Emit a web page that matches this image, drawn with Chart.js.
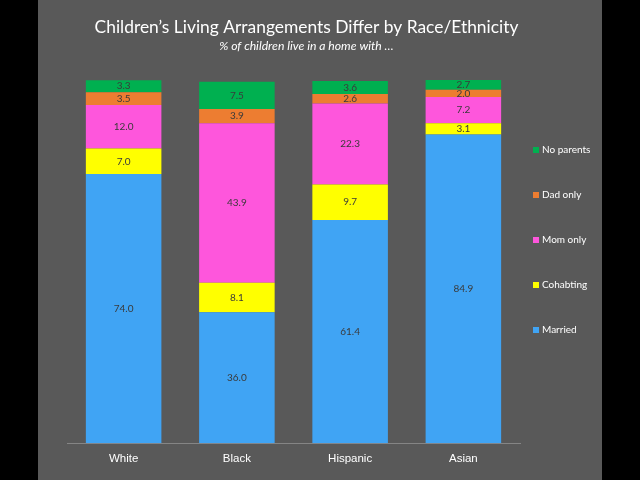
<!DOCTYPE html>
<html>
<head>
<meta charset="utf-8">
<script src="https://cdn.jsdelivr.net/npm/chart.js@4.4.1/dist/chart.umd.min.js"></script>
<style>
  html, body { margin: 0; padding: 0; background: #000; }
  #frame { position: absolute; left: 38px; top: 0; width: 564px; height: 480px; background: #595959; }
  #wrap { position: absolute; left: 0; top: 0; width: 613px; height: 480px; }
</style>
</head>
<body>
<div id="frame"></div>
<div id="wrap"><canvas id="chart"></canvas></div>
<script>
const groups = ['White', 'Black', 'Hispanic', 'Asian'];
const married = [74.0, 36.0, 61.4, 84.9];
const cohabiting = [7.0, 8.1, 9.7, 3.1];
const momOnly = [12.0, 43.9, 22.3, 7.2];
const dadOnly = [3.5, 3.9, 2.6, 2.0];
const noParents = [3.3, 7.5, 3.6, 2.7];

// draws the value in the middle of every segment
const segmentLabels = {
    id: 'segmentLabels',
    afterDatasetsDraw(chart) {
        const ctx = chart.ctx;
        ctx.save();
        ctx.font = '10px Lato';
        ctx.fillStyle = '#3a3a3a';
        ctx.textAlign = 'center';
        ctx.textBaseline = 'middle';
        chart.data.datasets.forEach((ds, i) => {
            chart.getDatasetMeta(i).data.forEach((bar, j) => {
                const y = (bar.y + bar.base) / 2;
                ctx.fillText(ds.data[j].toFixed(1), bar.x, y);
            });
        });
        ctx.restore();
    }
};

// legend column on the right, top item = top of stack
const sideLegend = {
    id: 'sideLegend',
    afterDraw(chart) {
        const ctx = chart.ctx;
        const items = chart.data.datasets.slice().reverse();
        const x = chart.chartArea.right + 13;
        const mid = chart.height / 2;
        ctx.save();
        ctx.font = '10px Lato';
        ctx.textBaseline = 'middle';
        items.forEach((ds, i) => {
            const y = mid + (i - 2) * 45;
            ctx.fillStyle = ds.backgroundColor;
            ctx.fillRect(x, y - 3, 6, 6);
            ctx.fillStyle = '#ffffff';
            ctx.fillText(ds.label, x + 9, y);
        });
        ctx.restore();
    }
};

// invisible side axes just reserve room so the title stays centred on the canvas
const spacer = (w) => ({
    display: true,
    ticks: { display: false },
    grid: { display: false },
    border: { display: false },
    afterFit(scale) { scale.width = w; }
});

new Chart(document.getElementById('chart'), {
    type: 'bar',
    data: {
        labels: groups,
        datasets: [
            { label: 'Married', data: married, backgroundColor: '#40a4f4' },
            { label: 'Cohabting', data: cohabiting, backgroundColor: '#ffff00' },
            { label: 'Mom only', data: momOnly, backgroundColor: '#fe56dc' },
            { label: 'Dad only', data: dadOnly, backgroundColor: '#ed7d31' },
            { label: 'No parents', data: noParents, backgroundColor: '#00b050' }
        ]
    },
    options: {
        responsive: true,
        maintainAspectRatio: false,
        animation: false,
        layout: { padding: { bottom: 5 } },
        datasets: { bar: { barPercentage: 0.667, categoryPercentage: 1 } },
        scales: {
            x: {
                stacked: true,
                grid: { display: false, drawTicks: false },
                border: { display: true, color: '#858585', width: 1 },
                ticks: { color: '#ffffff', padding: 9, font: { family: 'Liberation Sans', size: 11.5 } }
            },
            y: Object.assign(spacer(67), { stacked: true, min: 0, max: 100, position: 'left' }),
            y2: Object.assign(spacer(93), { type: 'linear', position: 'right' })
        },
        plugins: {
            legend: { display: false },
            tooltip: { enabled: false },
            title: {
                display: true,
                text: 'Children’s Living Arrangements Differ by Race/Ethnicity',
                color: '#ffffff',
                font: { family: 'Lato', size: 17.4, weight: 'normal' },
                padding: { top: 17, bottom: 1 }
            },
            subtitle: {
                display: true,
                text: '% of children live in a home with …',
                color: '#ffffff',
                font: { family: 'Lato', size: 12.2, style: 'italic' },
                padding: { top: 0, bottom: 26 }
            }
        }
    },
    plugins: [segmentLabels, sideLegend]
});
</script>
</body>
</html>
